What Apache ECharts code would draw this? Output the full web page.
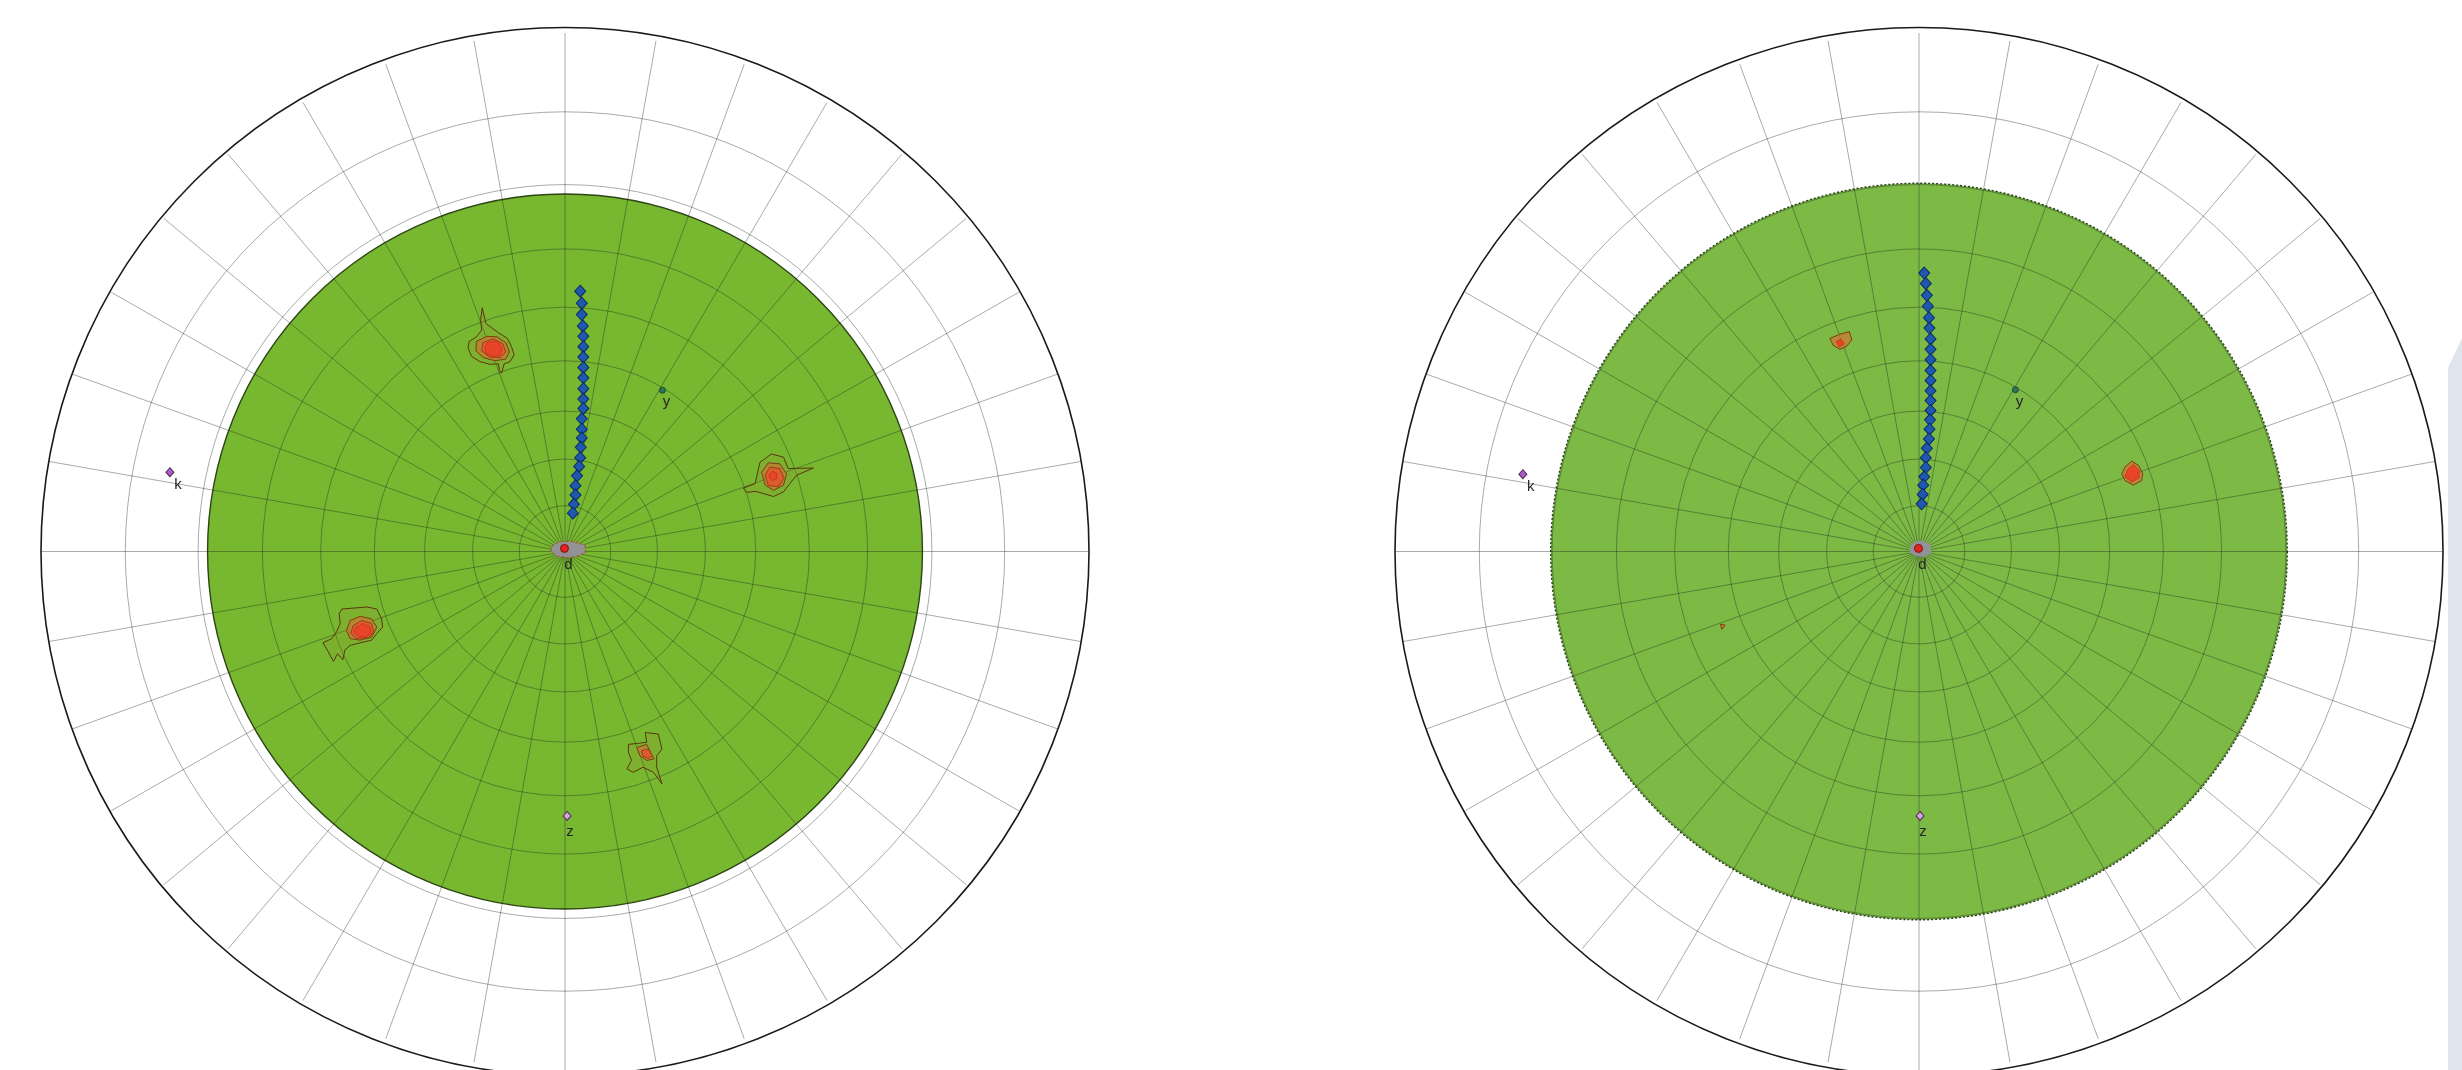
<!DOCTYPE html>
<html>
<head>
<meta charset="utf-8">
<script src="https://cdn.jsdelivr.net/npm/echarts/dist/echarts.min.js"></script>
<style>
  html, body { margin: 0; padding: 0; background: #ffffff; }
  #chart { width: 2462px; height: 1070px; }
</style>
</head>
<body>
<div id="chart"></div>
<script>
// ---- Net layout: stereographic polar net, primitive circle = 100 net units ----
const ringAngles = [10, 20, 30, 40, 50, 60, 70, 80];        // small circles (deg from centre)
const primitiveAngle = 90;
const spokeAzimuths = [0,10,20,30,40,50,60,70,80,90,100,110,120,130,140,150,160,170,
                       180,190,200,210,220,230,240,250,260,270,280,290,300,310,320,330,340,350];

// Limit of the shaded (green) region, degrees from centre
const shadeLimitLeft = 68.6;
const shadeLimitRight = 70.2;

// Pole track (net units: x east, y north)
const trackLeft = [[2.9,50.2],[3.2,47.9],[3.2,45.7],[3.4,43.5],[3.5,41.5],[3.5,39.5],[3.5,37.5],
  [3.5,35.5],[3.5,33.5],[3.5,31.4],[3.5,29.4],[3.5,27.6],[3.2,25.6],[3.2,23.6],[3.2,21.9],
  [3.0,20.1],[2.9,18.1],[2.7,16.4],[2.3,14.6],[2.0,12.7],[2.0,10.9],[1.7,9.1],[1.5,7.4]];
const trackRight = [[1.0,53.7],[1.3,51.7],[1.5,49.4],[1.7,47.3],[1.9,45.1],[2.0,43.1],[2.2,41.0],
  [2.2,39.0],[2.2,37.0],[2.2,34.9],[2.2,33.0],[2.2,31.0],[2.2,29.1],[2.2,27.2],[2.1,25.4],
  [2.0,23.6],[1.9,21.7],[1.5,19.9],[1.3,18.1],[1.3,16.2],[1.0,14.4],[0.8,12.8],[0.7,11.0],[0.5,9.2]];

// Named reference axes
const axisNames = ['d', 'y', 'k', 'z'];
const axesLeft  = [[-0.1, 0.6], [18.6, 31.1], [-75.4, 15.3], [0.4, -51.0]];
const axesRight = [[-0.1, 0.6], [18.4, 31.2], [-75.6, 14.9], [0.2, -51.0]];

// Density contours (levels 1..4), net units
const clusterNW = [
  [[-15.8,47.0],[-15.1,44.0],[-14.2,43.3],[-12.7,42.2],[-11.0,41.1],[-10.2,39.5],[-9.7,37.9],[-10.5,36.6],
   [-11.6,36.2],[-12.1,34.4],[-12.5,34.9],[-12.7,36.2],[-14.3,36.1],[-16.2,36.6],[-17.8,37.6],[-18.5,39.2],
   [-18.3,40.5],[-16.9,41.4],[-15.9,42.7],[-16.1,44.7]],
  [[-16.9,40.5],[-14.9,41.5],[-13.0,41.4],[-11.3,40.3],[-10.6,38.5],[-11.3,37.1],[-13.4,36.8],[-15.6,37.4],[-17.0,38.7]],
  [[-15.7,40.3],[-13.7,41.0],[-11.9,40.1],[-11.3,38.5],[-12.3,37.4],[-14.4,37.5],[-15.9,38.7]],
  [[-14.8,40.3],[-13.0,40.6],[-12.1,39.4],[-12.3,37.9],[-13.7,37.6],[-15.1,38.2],[-15.3,39.4]]
];
const clusterE = [
  [[34.0,12.2],[36.3,13.1],[37.2,17.2],[39.4,18.8],[41.7,18.2],[42.6,16.0],[47.4,16.1],[44.2,14.7],
   [42.9,13.1],[41.7,11.5],[39.8,10.6],[37.8,11.2],[36.3,11.6],[34.7,11.4]],
  [[37.5,15.3],[38.8,17.1],[41.0,16.9],[42.3,15.0],[41.7,12.8],[39.8,11.8],[38.2,12.8]],
  [[38.2,14.7],[39.1,16.3],[41.0,16.0],[41.8,14.1],[40.7,12.5],[38.8,12.7]],
  [[39.0,14.9],[39.6,15.5],[40.4,15.1],[40.4,14.0],[39.5,13.7],[39.0,14.2]]
];
const clusterSW = [
  [[-42.6,-11.1],[-37.8,-10.7],[-35.9,-11.1],[-35.0,-13.0],[-34.8,-14.6],[-35.9,-15.8],[-36.9,-17.1],
   [-39.4,-17.7],[-41.0,-18.1],[-42.0,-19.0],[-42.4,-20.9],[-43.4,-19.7],[-44.2,-21.2],[-45.2,-19.3],
   [-46.2,-17.6],[-44.5,-16.8],[-43.6,-15.5],[-42.9,-13.9],[-43.1,-12.0]],
  [[-41.0,-13.3],[-39.1,-12.5],[-36.9,-13.0],[-35.9,-14.6],[-36.9,-16.5],[-39.1,-17.1],[-41.0,-16.8],[-41.7,-15.2]],
  [[-40.4,-14.3],[-38.8,-13.3],[-36.9,-13.9],[-36.5,-15.5],[-37.5,-16.6],[-39.8,-16.8],[-40.9,-15.8]],
  [[-39.9,-14.7],[-38.5,-13.9],[-37.2,-14.6],[-37.0,-15.8],[-38.2,-16.5],[-39.6,-16.4],[-40.3,-15.5]]
];
const clusterS = [
  [[12.1,-37.2],[15.6,-36.8],[15.3,-34.9],[17.8,-35.2],[18.5,-38.1],[17.5,-39.4],[17.5,-41.6],[18.5,-44.8],
   [16.9,-42.6],[14.9,-41.6],[13.0,-42.6],[11.8,-41.9],[12.7,-40.3],[12.1,-38.7]],
  [[13.7,-37.8],[15.6,-37.2],[16.5,-39.1],[17.0,-40.0],[15.6,-40.3],[14.3,-39.4]],
  [[14.6,-38.4],[15.9,-38.1],[16.7,-39.4],[15.9,-39.9],[14.9,-39.5]]
];
const clusterNWr = [
  [[-17.0,41.1],[-15.1,41.9],[-13.3,42.4],[-12.8,40.8],[-13.8,39.6],[-15.1,39.0],[-16.4,39.8]],
  [[-15.8,40.5],[-14.9,41.0],[-14.3,40.1],[-15.2,39.4]]
];
const clusterEr = [
  [[39.3,16.3],[40.6,17.4],[41.9,16.6],[42.7,15.0],[42.5,13.7],[40.9,12.8],[39.3,13.7],[38.7,15.0]],
  [[39.8,15.8],[40.9,16.8],[42.0,15.6],[42.0,14.2],[40.6,13.4],[39.3,14.4]]
];
const clusterSWr = [
  [[-37.9,-14.0],[-37.0,-14.2],[-37.6,-15.0]]
];
// Low-density patch around the centre
const centrePatchLeft = [[-2.5,1.0],[-1.3,1.8],[1.0,2.0],[2.2,1.7],[3.8,1.3],[3.9,-0.3],[2.2,-0.9],
  [0.6,-1.2],[-1.6,-0.9],[-2.7,0.1]];
const centrePatchRight = [[-1.7,1.0],[-0.8,2.0],[0.8,2.1],[2.2,1.3],[2.4,-0.3],[1.1,-1.0],[-0.8,-0.9],[-1.9,0.1]];

const clustersLeft = [clusterNW, clusterE, clusterSW, clusterS];
const clustersRight = [clusterNWr, clusterEr, clusterSWr];

// ---- helpers ----
const NET_R = 100;
function stereoRadius(deg) { return NET_R * Math.tan(deg * Math.PI / 360); }

const levelStyles = [
  { fill: 'rgba(140,150,40,0.25)', stroke: '#5b3510', lineWidth: 1 },
  { fill: 'rgba(200,120,50,0.75)', stroke: '#7e3c14', lineWidth: 1 },
  { fill: '#dc5c30', stroke: '#9c3c1a', lineWidth: 1 },
  { fill: '#ea4428', stroke: '#c4301c', lineWidth: 0.8 }
];
const gridStroke = 'rgba(25,35,30,0.38)';

// label offsets (px) for the named axes: d, y, k, z
const axisLabelOffsets = [[4, 16], [4, 12], [8, 13], [3, 16]];

function circleAt(api, radius, style) {
  const c = api.coord([0, 0]);
  const e = api.coord([radius, 0]);
  return { type: 'circle', shape: { cx: c[0], cy: c[1], r: e[0] - c[0] }, style: style };
}

function buildNet(gi, cfg) {
  const series = [];
  const ax = { coordinateSystem: 'cartesian2d', xAxisIndex: gi, yAxisIndex: gi, silent: true };
  // shaded region
  series.push(Object.assign({}, ax, {
    type: 'custom', z: 1,
    data: [[cfg.shade, 0]],
    renderItem: (p, api) => circleAt(api, stereoRadius(api.value(0)), {
      fill: cfg.shadeColor, stroke: cfg.shadeEdge, lineWidth: 1.4, lineDash: cfg.shadeDash
    })
  }));
  // small circles
  series.push(Object.assign({}, ax, {
    type: 'custom', z: 2,
    data: ringAngles.map(a => [a, 0]),
    renderItem: (p, api) => circleAt(api, stereoRadius(api.value(0)), {
      fill: null, stroke: gridStroke, lineWidth: 1
    })
  }));
  // radial lines
  series.push(Object.assign({}, ax, {
    type: 'custom', z: 2,
    data: spokeAzimuths.map(a => [a, 0]),
    renderItem: (p, api) => {
      const az = api.value(0) * Math.PI / 180;
      const c = api.coord([0, 0]);
      const e = api.coord([NET_R * Math.sin(az), NET_R * Math.cos(az)]);
      return { type: 'line', shape: { x1: c[0], y1: c[1], x2: e[0], y2: e[1] },
               style: { stroke: gridStroke, lineWidth: 1 } };
    }
  }));
  // primitive circle
  series.push(Object.assign({}, ax, {
    type: 'custom', z: 3,
    data: [[primitiveAngle, 0]],
    renderItem: (p, api) => circleAt(api, stereoRadius(api.value(0)), {
      fill: null, stroke: '#1a1a1a', lineWidth: 1.6
    })
  }));
  // centre patch
  series.push(Object.assign({}, ax, {
    type: 'custom', z: 4,
    data: [[0, 0]],
    renderItem: (p, api) => ({
      type: 'polygon',
      shape: { points: cfg.patch.map(pt => api.coord(pt)) },
      style: { fill: 'rgba(150,146,158,0.92)', stroke: cfg.patchEdge, lineWidth: 1, lineDash: [3, 2] }
    })
  }));
  // density contours
  const items = [];
  cfg.clusters.forEach((cl, ci) => cl.forEach((ring, li) => items.push([0, 0, ci, li])));
  series.push(Object.assign({}, ax, {
    type: 'custom', z: 5,
    data: items,
    renderItem: (p, api) => {
      const ring = cfg.clusters[api.value(2)][api.value(3)];
      const st = levelStyles[cfg.levelMap[api.value(3)]];
      return { type: 'polygon', shape: { points: ring.map(pt => api.coord(pt)) },
               style: { fill: st.fill, stroke: st.stroke, lineWidth: st.lineWidth } };
    }
  }));
  // pole track
  series.push(Object.assign({}, ax, {
    type: 'scatter', z: 6, symbol: 'diamond', symbolSize: [11, 12],
    data: cfg.track,
    itemStyle: { color: '#1f58ad', borderColor: '#0b2a66', borderWidth: 1, opacity: 1 }
  }));
  // named axes
  const markStyles = [
    { symbol: 'circle', size: 8, color: '#e3231e', border: '#7a1414' },
    { symbol: 'circle', size: 6, color: '#2f7456', border: '#1c4a36' },
    { symbol: 'diamond', size: [8, 9], color: '#b25ac6', border: '#4a2a55' },
    { symbol: 'diamond', size: [8, 9], color: '#d4a4e0', border: '#4a2a55' }
  ];
  series.push(Object.assign({}, ax, {
    type: 'scatter', z: 7,
    data: cfg.axes.map((pt, i) => ({
      value: pt, name: axisNames[i],
      symbol: markStyles[i].symbol, symbolSize: markStyles[i].size,
      itemStyle: { color: markStyles[i].color, borderColor: markStyles[i].border, borderWidth: 1, opacity: 1 },
      label: { offset: axisLabelOffsets[i] }
    })),
    label: {
      show: true, formatter: '{b}', position: 'inside',
      fontFamily: 'Liberation Sans, Arial, sans-serif', fontSize: 15, color: '#262626'
    }
  }));
  return series;
}

const chart = echarts.init(document.getElementById('chart'), null, { renderer: 'canvas' });
const netAxis = { type: 'value', min: -100, max: 100, show: false };
chart.setOption({
  animation: false,
  backgroundColor: '#ffffff',
  grid: [
    { left: 41, top: 33, width: 1048, height: 1048 },
    { left: 1395, top: 33, width: 1048, height: 1048 }
  ],
  xAxis: [Object.assign({ gridIndex: 0 }, netAxis), Object.assign({ gridIndex: 1 }, netAxis)],
  yAxis: [Object.assign({ gridIndex: 0 }, netAxis), Object.assign({ gridIndex: 1 }, netAxis)],
  graphic: [{
    type: 'polygon', silent: true, z: 0,
    shape: { points: [[2448, 368], [2462, 338], [2462, 1070], [2448, 1070]] },
    style: { fill: '#dfe4ee' }
  }],
  series: [].concat(
    buildNet(0, {
      shade: shadeLimitLeft, shadeColor: '#77b830', shadeEdge: '#2c4514', shadeDash: null,
      patch: centrePatchLeft, patchEdge: '#b0483a', levelMap: [0, 1, 2, 3],
      clusters: clustersLeft, track: trackLeft, axes: axesLeft
    }),
    buildNet(1, {
      shade: shadeLimitRight, shadeColor: '#7cba45', shadeEdge: '#2c3a22', shadeDash: [2, 2],
      patch: centrePatchRight, patchEdge: 'rgba(0,0,0,0)', levelMap: [1, 3],
      clusters: clustersRight, track: trackRight, axes: axesRight
    })
  )
});
</script>
</body>
</html>
